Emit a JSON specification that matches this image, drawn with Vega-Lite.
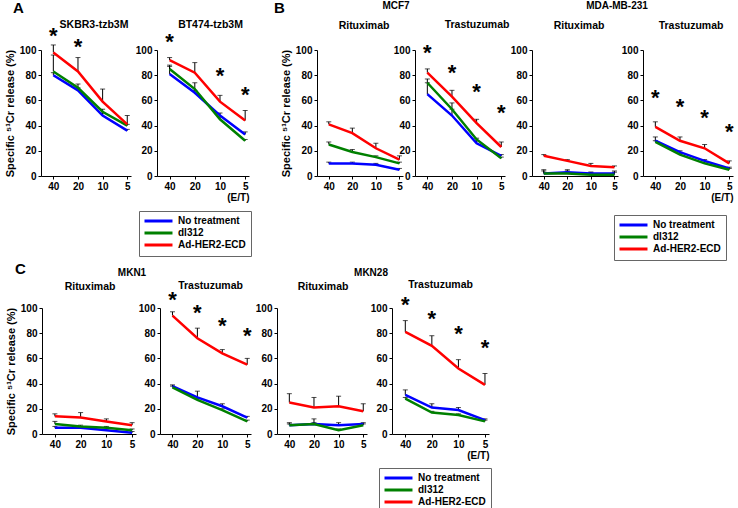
{
"$schema": "https://vega.github.io/schema/vega-lite/v6.json",
"padding": {"top": 1, "left": 0, "right": 0, "bottom": 0},
"config": {
 "font": "Liberation Sans",
 "view": {"stroke": null},
 "axis": {"grid": false, "domainColor": "black", "tickColor": "black", "tickSize": 3, "labelPadding": 2, "labelFontWeight": "bold", "labelFontSize": 10, "labelColor": "black", "titleFontWeight": "bold", "titleColor": "black", "titleFontSize": 11},
 "axisY": {"titlePadding": 4},
 "axisX": {"titleFontSize": 10, "titleAnchor": "end", "titlePadding": 1},
 "title": {"fontWeight": "bold", "fontSize": 10.5, "color": "black", "frame": "group"},
 "legend": {"strokeColor": "#666", "padding": 5, "labelFontSize": 10, "labelFontWeight": "bold", "labelColor": "black", "symbolType": "M-1.5,0H7.83", "symbolSize": 36, "symbolStrokeWidth": 3, "labelOffset": 24, "rowPadding": 0}
},
"datasets": {
 "d": [
  {"panel":"A1","series":"No treatment","et":40,"value":80,"upper":82},{"panel":"A1","series":"No treatment","et":20,"value":68,"upper":70},{"panel":"A1","series":"No treatment","et":10,"value":48,"upper":50},{"panel":"A1","series":"No treatment","et":5,"value":36,"upper":37},
  {"panel":"A1","series":"dl312","et":40,"value":83,"upper":96},{"panel":"A1","series":"dl312","et":20,"value":70,"upper":73},{"panel":"A1","series":"dl312","et":10,"value":51,"upper":53},{"panel":"A1","series":"dl312","et":5,"value":40,"upper":41},
  {"panel":"A1","series":"Ad-HER2-ECD","et":40,"value":98,"upper":104},{"panel":"A1","series":"Ad-HER2-ECD","et":20,"value":83,"upper":94},{"panel":"A1","series":"Ad-HER2-ECD","et":10,"value":59,"upper":69},{"panel":"A1","series":"Ad-HER2-ECD","et":5,"value":41,"upper":48},
  {"panel":"A2","series":"No treatment","et":40,"value":81,"upper":88},{"panel":"A2","series":"No treatment","et":20,"value":66,"upper":68},{"panel":"A2","series":"No treatment","et":10,"value":48,"upper":50},{"panel":"A2","series":"No treatment","et":5,"value":33,"upper":35},
  {"panel":"A2","series":"dl312","et":40,"value":85,"upper":87},{"panel":"A2","series":"dl312","et":20,"value":69,"upper":74},{"panel":"A2","series":"dl312","et":10,"value":45,"upper":47},{"panel":"A2","series":"dl312","et":5,"value":28,"upper":29},
  {"panel":"A2","series":"Ad-HER2-ECD","et":40,"value":92,"upper":94},{"panel":"A2","series":"Ad-HER2-ECD","et":20,"value":82,"upper":90},{"panel":"A2","series":"Ad-HER2-ECD","et":10,"value":59,"upper":64},{"panel":"A2","series":"Ad-HER2-ECD","et":5,"value":44,"upper":52},
  {"panel":"B1","series":"No treatment","et":40,"value":10,"upper":11},{"panel":"B1","series":"No treatment","et":20,"value":10,"upper":11},{"panel":"B1","series":"No treatment","et":10,"value":9,"upper":10},{"panel":"B1","series":"No treatment","et":5,"value":5,"upper":6},
  {"panel":"B1","series":"dl312","et":40,"value":25,"upper":27},{"panel":"B1","series":"dl312","et":20,"value":19,"upper":21},{"panel":"B1","series":"dl312","et":10,"value":15,"upper":16},{"panel":"B1","series":"dl312","et":5,"value":10,"upper":11},
  {"panel":"B1","series":"Ad-HER2-ECD","et":40,"value":41,"upper":43},{"panel":"B1","series":"Ad-HER2-ECD","et":20,"value":34,"upper":38},{"panel":"B1","series":"Ad-HER2-ECD","et":10,"value":22,"upper":26},{"panel":"B1","series":"Ad-HER2-ECD","et":5,"value":13,"upper":16},
  {"panel":"B2","series":"No treatment","et":40,"value":65,"upper":74},{"panel":"B2","series":"No treatment","et":20,"value":48,"upper":53},{"panel":"B2","series":"No treatment","et":10,"value":26,"upper":28},{"panel":"B2","series":"No treatment","et":5,"value":16,"upper":17},
  {"panel":"B2","series":"dl312","et":40,"value":74,"upper":77},{"panel":"B2","series":"dl312","et":20,"value":53,"upper":58},{"panel":"B2","series":"dl312","et":10,"value":29,"upper":30},{"panel":"B2","series":"dl312","et":5,"value":14,"upper":15},
  {"panel":"B2","series":"Ad-HER2-ECD","et":40,"value":82,"upper":85},{"panel":"B2","series":"Ad-HER2-ECD","et":20,"value":63,"upper":68},{"panel":"B2","series":"Ad-HER2-ECD","et":10,"value":42,"upper":45},{"panel":"B2","series":"Ad-HER2-ECD","et":5,"value":23,"upper":27},
  {"panel":"B3","series":"No treatment","et":40,"value":2,"upper":5},{"panel":"B3","series":"No treatment","et":20,"value":3,"upper":5},{"panel":"B3","series":"No treatment","et":10,"value":2,"upper":3},{"panel":"B3","series":"No treatment","et":5,"value":2,"upper":4},
  {"panel":"B3","series":"dl312","et":40,"value":2,"upper":4},{"panel":"B3","series":"dl312","et":20,"value":2,"upper":4},{"panel":"B3","series":"dl312","et":10,"value":1,"upper":3},{"panel":"B3","series":"dl312","et":5,"value":1,"upper":3},
  {"panel":"B3","series":"Ad-HER2-ECD","et":40,"value":16,"upper":17},{"panel":"B3","series":"Ad-HER2-ECD","et":20,"value":12,"upper":13},{"panel":"B3","series":"Ad-HER2-ECD","et":10,"value":8,"upper":10},{"panel":"B3","series":"Ad-HER2-ECD","et":5,"value":7,"upper":8},
  {"panel":"B4","series":"No treatment","et":40,"value":28,"upper":31},{"panel":"B4","series":"No treatment","et":20,"value":19,"upper":20},{"panel":"B4","series":"No treatment","et":10,"value":12,"upper":13},{"panel":"B4","series":"No treatment","et":5,"value":6,"upper":7},
  {"panel":"B4","series":"dl312","et":40,"value":27,"upper":28},{"panel":"B4","series":"dl312","et":20,"value":17,"upper":18},{"panel":"B4","series":"dl312","et":10,"value":10,"upper":11},{"panel":"B4","series":"dl312","et":5,"value":5,"upper":6},
  {"panel":"B4","series":"Ad-HER2-ECD","et":40,"value":39,"upper":43},{"panel":"B4","series":"Ad-HER2-ECD","et":20,"value":28,"upper":31},{"panel":"B4","series":"Ad-HER2-ECD","et":10,"value":22,"upper":25},{"panel":"B4","series":"Ad-HER2-ECD","et":5,"value":10,"upper":12},
  {"panel":"C1","series":"No treatment","et":40,"value":5,"upper":6},{"panel":"C1","series":"No treatment","et":20,"value":5,"upper":5},{"panel":"C1","series":"No treatment","et":10,"value":3,"upper":3},{"panel":"C1","series":"No treatment","et":5,"value":1,"upper":2},
  {"panel":"C1","series":"dl312","et":40,"value":8,"upper":10},{"panel":"C1","series":"dl312","et":20,"value":6,"upper":7},{"panel":"C1","series":"dl312","et":10,"value":5,"upper":6},{"panel":"C1","series":"dl312","et":5,"value":3,"upper":4},
  {"panel":"C1","series":"Ad-HER2-ECD","et":40,"value":14,"upper":16},{"panel":"C1","series":"Ad-HER2-ECD","et":20,"value":13,"upper":17},{"panel":"C1","series":"Ad-HER2-ECD","et":10,"value":10,"upper":12},{"panel":"C1","series":"Ad-HER2-ECD","et":5,"value":7,"upper":9},
  {"panel":"C2","series":"No treatment","et":40,"value":38,"upper":39},{"panel":"C2","series":"No treatment","et":20,"value":29,"upper":34},{"panel":"C2","series":"No treatment","et":10,"value":22,"upper":24},{"panel":"C2","series":"No treatment","et":5,"value":13,"upper":14},
  {"panel":"C2","series":"dl312","et":40,"value":37,"upper":38},{"panel":"C2","series":"dl312","et":20,"value":27,"upper":28},{"panel":"C2","series":"dl312","et":10,"value":19,"upper":20},{"panel":"C2","series":"dl312","et":5,"value":10,"upper":11},
  {"panel":"C2","series":"Ad-HER2-ECD","et":40,"value":94,"upper":97},{"panel":"C2","series":"Ad-HER2-ECD","et":20,"value":76,"upper":84},{"panel":"C2","series":"Ad-HER2-ECD","et":10,"value":64,"upper":67},{"panel":"C2","series":"Ad-HER2-ECD","et":5,"value":55,"upper":60},
  {"panel":"C3","series":"No treatment","et":40,"value":7,"upper":9},{"panel":"C3","series":"No treatment","et":20,"value":8,"upper":12},{"panel":"C3","series":"No treatment","et":10,"value":7,"upper":9},{"panel":"C3","series":"No treatment","et":5,"value":8,"upper":9},
  {"panel":"C3","series":"dl312","et":40,"value":7,"upper":8},{"panel":"C3","series":"dl312","et":20,"value":8,"upper":9},{"panel":"C3","series":"dl312","et":10,"value":3,"upper":4},{"panel":"C3","series":"dl312","et":5,"value":7,"upper":8},
  {"panel":"C3","series":"Ad-HER2-ECD","et":40,"value":25,"upper":32},{"panel":"C3","series":"Ad-HER2-ECD","et":20,"value":21,"upper":29},{"panel":"C3","series":"Ad-HER2-ECD","et":10,"value":22,"upper":30},{"panel":"C3","series":"Ad-HER2-ECD","et":5,"value":18,"upper":24},
  {"panel":"C4","series":"No treatment","et":40,"value":31,"upper":35},{"panel":"C4","series":"No treatment","et":20,"value":21,"upper":24},{"panel":"C4","series":"No treatment","et":10,"value":19,"upper":21},{"panel":"C4","series":"No treatment","et":5,"value":11,"upper":12},
  {"panel":"C4","series":"dl312","et":40,"value":28,"upper":29},{"panel":"C4","series":"dl312","et":20,"value":17,"upper":18},{"panel":"C4","series":"dl312","et":10,"value":15,"upper":16},{"panel":"C4","series":"dl312","et":5,"value":10,"upper":11},
  {"panel":"C4","series":"Ad-HER2-ECD","et":40,"value":81,"upper":90},{"panel":"C4","series":"Ad-HER2-ECD","et":20,"value":70,"upper":78},{"panel":"C4","series":"Ad-HER2-ECD","et":10,"value":52,"upper":59},{"panel":"C4","series":"Ad-HER2-ECD","et":5,"value":39,"upper":48}
 ],
 "s": [
  {"panel":"A1","et":40,"y":111},{"panel":"A1","et":20,"y":102},
  {"panel":"A2","et":40,"y":106},{"panel":"A2","et":10,"y":79},{"panel":"A2","et":5,"y":64},
  {"panel":"B2","et":40,"y":98},{"panel":"B2","et":20,"y":82},{"panel":"B2","et":10,"y":67},{"panel":"B2","et":5,"y":50},
  {"panel":"B4","et":40,"y":62},{"panel":"B4","et":20,"y":55},{"panel":"B4","et":10,"y":46},{"panel":"B4","et":5,"y":35},
  {"panel":"C2","et":40,"y":106},{"panel":"C2","et":20,"y":96},{"panel":"C2","et":10,"y":86},{"panel":"C2","et":5,"y":78},
  {"panel":"C4","et":40,"y":102},{"panel":"C4","et":20,"y":91},{"panel":"C4","et":10,"y":79},{"panel":"C4","et":5,"y":68}
 ]
},
"resolve": {"scale": {"color": "independent"}},
"spacing": 1,
"vconcat": [
 {"resolve": {"scale": {"color": "independent"}}, "bounds": "flush", "spacing": 0, "hconcat": [
 {"width": 41, "height": 126, "data": {"values": []}, "mark": "text", "encoding": {}, "title": {"text": "A", "anchor": "start", "fontSize": 15, "dx": 13, "offset": 34}},
 {"width": 90, "height": 126, "title": {"text": "SKBR3-tzb3M", "offset": 0, "dy": 5, "dx": 8},
  "encoding": {"x": {"field": "et", "type": "quantitative", "scale": {"type": "log", "base": 2, "domain": [56.6, 4.5], "nice": false}, "axis": {"values": [40, 20, 10, 5], "format": "d", "title": null}},
   "y": {"field": "value", "type": "quantitative", "scale": {"domain": [0, 100], "nice": false}, "axis": {"values": [0, 20, 40, 60, 80, 100], "title": "Specific ⁵¹Cr release (%)"}}},
  "layer": [
   {"data": {"name": "d"}, "transform": [{"filter": "datum.panel == 'A1'"}], "mark": {"type": "rule", "color": "black", "strokeWidth": 1}, "encoding": {"y2": {"field": "upper"}}},
   {"data": {"name": "d"}, "transform": [{"filter": "datum.panel == 'A1'"}], "mark": {"type": "tick", "orient": "horizontal", "size": 5, "thickness": 1, "color": "black"}, "encoding": {"y": {"field": "upper", "type": "quantitative", "scale": {"domain": [0, 100], "nice": false}, "axis": {"values": [0, 20, 40, 60, 80, 100], "title": "Specific ⁵¹Cr release (%)"}}}},
   {"data": {"name": "d"}, "transform": [{"filter": "datum.panel == 'A1'"}], "mark": {"type": "line", "strokeWidth": 2.5}, "encoding": {"color": {"field": "series", "type": "nominal", "scale": {"domain": ["No treatment", "dl312", "Ad-HER2-ECD"], "range": ["#0000ff", "#008000", "#ff0000"]}, "legend": null}}},
   {"data": {"name": "s"}, "transform": [{"filter": "datum.panel == 'A1'"}], "mark": {"type": "text", "text": "*", "fontSize": 22, "fontWeight": "bold", "color": "black", "baseline": "middle", "dy": 0}, "encoding": {"y": {"field": "y", "type": "quantitative", "scale": {"domain": [0, 100], "nice": false}, "axis": {"values": [0, 20, 40, 60, 80, 100], "title": "Specific ⁵¹Cr release (%)"}}}}
  ]},
 {"width": 26, "height": 126, "data": {"values": []}, "mark": "text", "encoding": {}},
 {"width": 92, "height": 126, "title": {"text": "BT474-tzb3M", "offset": 1.4, "dx": 7.5},
  "encoding": {"x": {"field": "et", "type": "quantitative", "scale": {"type": "log", "base": 2, "domain": [56.6, 4.5], "nice": false}, "axis": {"values": [40, 20, 10, 5], "format": "d", "title": "(E/T)"}},
   "y": {"field": "value", "type": "quantitative", "scale": {"domain": [0, 100], "nice": false}, "axis": {"values": [0, 20, 40, 60, 80, 100], "title": null}}},
  "layer": [
   {"data": {"name": "d"}, "transform": [{"filter": "datum.panel == 'A2'"}], "mark": {"type": "rule", "color": "black", "strokeWidth": 1}, "encoding": {"y2": {"field": "upper"}}},
   {"data": {"name": "d"}, "transform": [{"filter": "datum.panel == 'A2'"}], "mark": {"type": "tick", "orient": "horizontal", "size": 5, "thickness": 1, "color": "black"}, "encoding": {"y": {"field": "upper", "type": "quantitative", "scale": {"domain": [0, 100], "nice": false}, "axis": {"values": [0, 20, 40, 60, 80, 100], "title": null}}}},
   {"data": {"name": "d"}, "transform": [{"filter": "datum.panel == 'A2'"}], "mark": {"type": "line", "strokeWidth": 2.5}, "encoding": {"color": {"field": "series", "type": "nominal", "scale": {"domain": ["No treatment", "dl312", "Ad-HER2-ECD"], "range": ["#0000ff", "#008000", "#ff0000"]}, "legend": {"orient": "none", "legendX": -18, "legendY": 161, "title": null}}}},
   {"data": {"name": "s"}, "transform": [{"filter": "datum.panel == 'A2'"}], "mark": {"type": "text", "text": "*", "fontSize": 22, "fontWeight": "bold", "color": "black", "baseline": "middle", "dy": 0}, "encoding": {"y": {"field": "y", "type": "quantitative", "scale": {"domain": [0, 100], "nice": false}, "axis": {"values": [0, 20, 40, 60, 80, 100], "title": null}}}}
  ]},
 {"width": 68, "height": 126, "data": {"values": []}, "mark": "text", "encoding": {}, "title": {"text": "B", "anchor": "start", "fontSize": 15, "dx": 25, "offset": 34}},
 {"width": 86, "height": 126, "title": {"text": "Rituximab", "offset": 14, "dx": 4},
  "encoding": {"x": {"field": "et", "type": "quantitative", "scale": {"type": "log", "base": 2, "domain": [56.6, 4.5], "nice": false}, "axis": {"values": [40, 20, 10, 5], "format": "d", "title": null}},
   "y": {"field": "value", "type": "quantitative", "scale": {"domain": [0, 100], "nice": false}, "axis": {"values": [0, 20, 40, 60, 80, 100], "title": "Specific ⁵¹Cr release (%)"}}},
  "layer": [
   {"data": {"name": "d"}, "transform": [{"filter": "datum.panel == 'B1'"}], "mark": {"type": "rule", "color": "black", "strokeWidth": 1}, "encoding": {"y2": {"field": "upper"}}},
   {"data": {"name": "d"}, "transform": [{"filter": "datum.panel == 'B1'"}], "mark": {"type": "tick", "orient": "horizontal", "size": 5, "thickness": 1, "color": "black"}, "encoding": {"y": {"field": "upper", "type": "quantitative", "scale": {"domain": [0, 100], "nice": false}, "axis": {"values": [0, 20, 40, 60, 80, 100], "title": "Specific ⁵¹Cr release (%)"}}}},
   {"data": {"name": "d"}, "transform": [{"filter": "datum.panel == 'B1'"}], "mark": {"type": "line", "strokeWidth": 2.5}, "encoding": {"color": {"field": "series", "type": "nominal", "scale": {"domain": ["No treatment", "dl312", "Ad-HER2-ECD"], "range": ["#0000ff", "#008000", "#ff0000"]}, "legend": null}}}
  ]},
 {"width": 12, "height": 126, "data": {"values": []}, "mark": "text", "encoding": {}, "title": {"text": "MCF7", "fontSize": 10, "dx": -13, "offset": 39}},
 {"width": 90, "height": 126, "title": {"text": "Trastuzumab", "offset": 11.5, "dx": 17},
  "encoding": {"x": {"field": "et", "type": "quantitative", "scale": {"type": "log", "base": 2, "domain": [56.6, 4.5], "nice": false}, "axis": {"values": [40, 20, 10, 5], "format": "d", "title": null}},
   "y": {"field": "value", "type": "quantitative", "scale": {"domain": [0, 100], "nice": false}, "axis": {"values": [0, 20, 40, 60, 80, 100], "title": null}}},
  "layer": [
   {"data": {"name": "d"}, "transform": [{"filter": "datum.panel == 'B2'"}], "mark": {"type": "rule", "color": "black", "strokeWidth": 1}, "encoding": {"y2": {"field": "upper"}}},
   {"data": {"name": "d"}, "transform": [{"filter": "datum.panel == 'B2'"}], "mark": {"type": "tick", "orient": "horizontal", "size": 5, "thickness": 1, "color": "black"}, "encoding": {"y": {"field": "upper", "type": "quantitative", "scale": {"domain": [0, 100], "nice": false}, "axis": {"values": [0, 20, 40, 60, 80, 100], "title": null}}}},
   {"data": {"name": "d"}, "transform": [{"filter": "datum.panel == 'B2'"}], "mark": {"type": "line", "strokeWidth": 2.5}, "encoding": {"color": {"field": "series", "type": "nominal", "scale": {"domain": ["No treatment", "dl312", "Ad-HER2-ECD"], "range": ["#0000ff", "#008000", "#ff0000"]}, "legend": null}}},
   {"data": {"name": "s"}, "transform": [{"filter": "datum.panel == 'B2'"}], "mark": {"type": "text", "text": "*", "fontSize": 22, "fontWeight": "bold", "color": "black", "baseline": "middle", "dy": 0}, "encoding": {"y": {"field": "y", "type": "quantitative", "scale": {"domain": [0, 100], "nice": false}, "axis": {"values": [0, 20, 40, 60, 80, 100], "title": null}}}}
  ]},
 {"width": 27, "height": 126, "data": {"values": []}, "mark": "text", "encoding": {}},
 {"width": 86, "height": 126, "title": {"text": "Rituximab", "offset": 14, "dx": 4},
  "encoding": {"x": {"field": "et", "type": "quantitative", "scale": {"type": "log", "base": 2, "domain": [56.6, 4.5], "nice": false}, "axis": {"values": [40, 20, 10, 5], "format": "d", "title": null}},
   "y": {"field": "value", "type": "quantitative", "scale": {"domain": [0, 100], "nice": false}, "axis": {"values": [0, 20, 40, 60, 80, 100], "title": null}}},
  "layer": [
   {"data": {"name": "d"}, "transform": [{"filter": "datum.panel == 'B3'"}], "mark": {"type": "rule", "color": "black", "strokeWidth": 1}, "encoding": {"y2": {"field": "upper"}}},
   {"data": {"name": "d"}, "transform": [{"filter": "datum.panel == 'B3'"}], "mark": {"type": "tick", "orient": "horizontal", "size": 5, "thickness": 1, "color": "black"}, "encoding": {"y": {"field": "upper", "type": "quantitative", "scale": {"domain": [0, 100], "nice": false}, "axis": {"values": [0, 20, 40, 60, 80, 100], "title": null}}}},
   {"data": {"name": "d"}, "transform": [{"filter": "datum.panel == 'B3'"}], "mark": {"type": "line", "strokeWidth": 2.5}, "encoding": {"color": {"field": "series", "type": "nominal", "scale": {"domain": ["No treatment", "dl312", "Ad-HER2-ECD"], "range": ["#0000ff", "#008000", "#ff0000"]}, "legend": null}}}
  ]},
 {"width": 25, "height": 126, "data": {"values": []}, "mark": "text", "encoding": {}, "title": {"text": "MDA-MB-231", "fontSize": 10, "dx": -13.5, "offset": 39}},
 {"width": 90, "height": 126, "title": {"text": "Trastuzumab", "offset": 14, "dx": 3},
  "encoding": {"x": {"field": "et", "type": "quantitative", "scale": {"type": "log", "base": 2, "domain": [56.6, 4.5], "nice": false}, "axis": {"values": [40, 20, 10, 5], "format": "d", "title": "(E/T)"}},
   "y": {"field": "value", "type": "quantitative", "scale": {"domain": [0, 100], "nice": false}, "axis": {"values": [0, 20, 40, 60, 80, 100], "title": null}}},
  "layer": [
   {"data": {"name": "d"}, "transform": [{"filter": "datum.panel == 'B4'"}], "mark": {"type": "rule", "color": "black", "strokeWidth": 1}, "encoding": {"y2": {"field": "upper"}}},
   {"data": {"name": "d"}, "transform": [{"filter": "datum.panel == 'B4'"}], "mark": {"type": "tick", "orient": "horizontal", "size": 5, "thickness": 1, "color": "black"}, "encoding": {"y": {"field": "upper", "type": "quantitative", "scale": {"domain": [0, 100], "nice": false}, "axis": {"values": [0, 20, 40, 60, 80, 100], "title": null}}}},
   {"data": {"name": "d"}, "transform": [{"filter": "datum.panel == 'B4'"}], "mark": {"type": "line", "strokeWidth": 2.5}, "encoding": {"color": {"field": "series", "type": "nominal", "scale": {"domain": ["No treatment", "dl312", "Ad-HER2-ECD"], "range": ["#0000ff", "#008000", "#ff0000"]}, "legend": {"orient": "none", "legendX": -29, "legendY": 165, "title": null}}}},
   {"data": {"name": "s"}, "transform": [{"filter": "datum.panel == 'B4'"}], "mark": {"type": "text", "text": "*", "fontSize": 22, "fontWeight": "bold", "color": "black", "baseline": "middle", "dy": 0}, "encoding": {"y": {"field": "y", "type": "quantitative", "scale": {"domain": [0, 100], "nice": false}, "axis": {"values": [0, 20, 40, 60, 80, 100], "title": null}}}}
  ]}
 ]},
 {"resolve": {"scale": {"color": "independent"}}, "bounds": "flush", "spacing": 0, "hconcat": [
 {"width": 42, "height": 126, "data": {"values": []}, "mark": "text", "encoding": {}, "title": {"text": "C", "anchor": "start", "fontSize": 15, "dx": 15, "offset": 31}},
 {"width": 94, "height": 126, "title": {"text": "Rituximab", "offset": 11, "dx": 1},
  "encoding": {"x": {"field": "et", "type": "quantitative", "scale": {"type": "log", "base": 2, "domain": [56.6, 4.5], "nice": false}, "axis": {"values": [40, 20, 10, 5], "format": "d", "title": null}},
   "y": {"field": "value", "type": "quantitative", "scale": {"domain": [0, 100], "nice": false}, "axis": {"values": [0, 20, 40, 60, 80, 100], "title": "Specific ⁵¹Cr release (%)"}}},
  "layer": [
   {"data": {"name": "d"}, "transform": [{"filter": "datum.panel == 'C1'"}], "mark": {"type": "rule", "color": "black", "strokeWidth": 1}, "encoding": {"y2": {"field": "upper"}}},
   {"data": {"name": "d"}, "transform": [{"filter": "datum.panel == 'C1'"}], "mark": {"type": "tick", "orient": "horizontal", "size": 5, "thickness": 1, "color": "black"}, "encoding": {"y": {"field": "upper", "type": "quantitative", "scale": {"domain": [0, 100], "nice": false}, "axis": {"values": [0, 20, 40, 60, 80, 100], "title": "Specific ⁵¹Cr release (%)"}}}},
   {"data": {"name": "d"}, "transform": [{"filter": "datum.panel == 'C1'"}], "mark": {"type": "line", "strokeWidth": 2.5}, "encoding": {"color": {"field": "series", "type": "nominal", "scale": {"domain": ["No treatment", "dl312", "Ad-HER2-ECD"], "range": ["#0000ff", "#008000", "#ff0000"]}, "legend": null}}}
  ]},
 {"width": 24, "height": 126, "data": {"values": []}, "mark": "text", "encoding": {}, "title": {"text": "MKN1", "fontSize": 10, "dx": -16, "offset": 30}},
 {"width": 91, "height": 126, "title": {"text": "Trastuzumab", "offset": 0, "dy": 1.6, "dx": 5},
  "encoding": {"x": {"field": "et", "type": "quantitative", "scale": {"type": "log", "base": 2, "domain": [56.6, 4.5], "nice": false}, "axis": {"values": [40, 20, 10, 5], "format": "d", "title": null}},
   "y": {"field": "value", "type": "quantitative", "scale": {"domain": [0, 100], "nice": false}, "axis": {"values": [0, 20, 40, 60, 80, 100], "title": null}}},
  "layer": [
   {"data": {"name": "d"}, "transform": [{"filter": "datum.panel == 'C2'"}], "mark": {"type": "rule", "color": "black", "strokeWidth": 1}, "encoding": {"y2": {"field": "upper"}}},
   {"data": {"name": "d"}, "transform": [{"filter": "datum.panel == 'C2'"}], "mark": {"type": "tick", "orient": "horizontal", "size": 5, "thickness": 1, "color": "black"}, "encoding": {"y": {"field": "upper", "type": "quantitative", "scale": {"domain": [0, 100], "nice": false}, "axis": {"values": [0, 20, 40, 60, 80, 100], "title": null}}}},
   {"data": {"name": "d"}, "transform": [{"filter": "datum.panel == 'C2'"}], "mark": {"type": "line", "strokeWidth": 2.5}, "encoding": {"color": {"field": "series", "type": "nominal", "scale": {"domain": ["No treatment", "dl312", "Ad-HER2-ECD"], "range": ["#0000ff", "#008000", "#ff0000"]}, "legend": null}}},
   {"data": {"name": "s"}, "transform": [{"filter": "datum.panel == 'C2'"}], "mark": {"type": "text", "text": "*", "fontSize": 22, "fontWeight": "bold", "color": "black", "baseline": "middle", "dy": 0}, "encoding": {"y": {"field": "y", "type": "quantitative", "scale": {"domain": [0, 100], "nice": false}, "axis": {"values": [0, 20, 40, 60, 80, 100], "title": null}}}}
  ]},
 {"width": 26, "height": 126, "data": {"values": []}, "mark": "text", "encoding": {}},
 {"width": 90, "height": 126, "title": {"text": "Rituximab", "offset": 11, "dx": 1},
  "encoding": {"x": {"field": "et", "type": "quantitative", "scale": {"type": "log", "base": 2, "domain": [56.6, 4.5], "nice": false}, "axis": {"values": [40, 20, 10, 5], "format": "d", "title": null}},
   "y": {"field": "value", "type": "quantitative", "scale": {"domain": [0, 100], "nice": false}, "axis": {"values": [0, 20, 40, 60, 80, 100], "title": null}}},
  "layer": [
   {"data": {"name": "d"}, "transform": [{"filter": "datum.panel == 'C3'"}], "mark": {"type": "rule", "color": "black", "strokeWidth": 1}, "encoding": {"y2": {"field": "upper"}}},
   {"data": {"name": "d"}, "transform": [{"filter": "datum.panel == 'C3'"}], "mark": {"type": "tick", "orient": "horizontal", "size": 5, "thickness": 1, "color": "black"}, "encoding": {"y": {"field": "upper", "type": "quantitative", "scale": {"domain": [0, 100], "nice": false}, "axis": {"values": [0, 20, 40, 60, 80, 100], "title": null}}}},
   {"data": {"name": "d"}, "transform": [{"filter": "datum.panel == 'C3'"}], "mark": {"type": "line", "strokeWidth": 2.5}, "encoding": {"color": {"field": "series", "type": "nominal", "scale": {"domain": ["No treatment", "dl312", "Ad-HER2-ECD"], "range": ["#0000ff", "#008000", "#ff0000"]}, "legend": null}}}
  ]},
 {"width": 25, "height": 126, "data": {"values": []}, "mark": "text", "encoding": {}, "title": {"text": "MKN28", "fontSize": 10, "dx": -8.5, "offset": 30}},
 {"width": 97, "height": 126, "title": {"text": "Trastuzumab", "offset": 3.5, "dx": 0},
  "encoding": {"x": {"field": "et", "type": "quantitative", "scale": {"type": "log", "base": 2, "domain": [56.6, 4.5], "nice": false}, "axis": {"values": [40, 20, 10, 5], "format": "d", "title": "(E/T)"}},
   "y": {"field": "value", "type": "quantitative", "scale": {"domain": [0, 100], "nice": false}, "axis": {"values": [0, 20, 40, 60, 80, 100], "title": null}}},
  "layer": [
   {"data": {"name": "d"}, "transform": [{"filter": "datum.panel == 'C4'"}], "mark": {"type": "rule", "color": "black", "strokeWidth": 1}, "encoding": {"y2": {"field": "upper"}}},
   {"data": {"name": "d"}, "transform": [{"filter": "datum.panel == 'C4'"}], "mark": {"type": "tick", "orient": "horizontal", "size": 5, "thickness": 1, "color": "black"}, "encoding": {"y": {"field": "upper", "type": "quantitative", "scale": {"domain": [0, 100], "nice": false}, "axis": {"values": [0, 20, 40, 60, 80, 100], "title": null}}}},
   {"data": {"name": "d"}, "transform": [{"filter": "datum.panel == 'C4'"}], "mark": {"type": "line", "strokeWidth": 2.5}, "encoding": {"color": {"field": "series", "type": "nominal", "scale": {"domain": ["No treatment", "dl312", "Ad-HER2-ECD"], "range": ["#0000ff", "#008000", "#ff0000"]}, "legend": {"orient": "none", "legendX": -13, "legendY": 160, "title": null}}}},
   {"data": {"name": "s"}, "transform": [{"filter": "datum.panel == 'C4'"}], "mark": {"type": "text", "text": "*", "fontSize": 22, "fontWeight": "bold", "color": "black", "baseline": "middle", "dy": 0}, "encoding": {"y": {"field": "y", "type": "quantitative", "scale": {"domain": [0, 100], "nice": false}, "axis": {"values": [0, 20, 40, 60, 80, 100], "title": null}}}}
  ]}
 ]}
]
}
